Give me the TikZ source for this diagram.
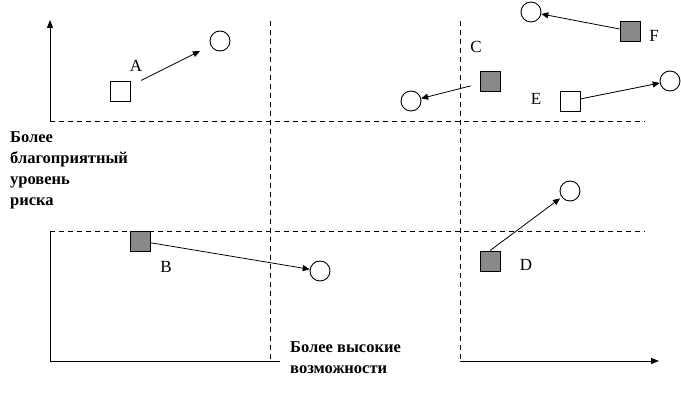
\documentclass[tikz,border=0pt]{standalone}
\usepackage{fontspec}
\setmainfont{Liberation Serif}
\usetikzlibrary{arrows.meta,positioning}
\definecolor{ink}{HTML}{000000}
\definecolor{boxgray}{HTML}{898989}
\tikzset{
  base/.style={font=\fontsize{17}{21}\selectfont, text=ink, inner sep=0pt},
  caption/.style={base, font=\bfseries\fontsize{16.5}{21}\selectfont, align=left, anchor=north west},
  letter/.style={base},
  sqbox/.style={draw=ink, line width=0.9pt, minimum size=20pt, inner sep=0pt},
  whitebox/.style={sqbox, fill=white},
  graybox/.style={sqbox, fill=boxgray},
  target/.style={circle, draw=ink, line width=0.9pt, minimum size=20pt, inner sep=0pt},
  move/.style={-{Triangle[length=7pt,width=6pt]}, line width=0.8pt, draw=ink},
  axis/.style={-{Triangle[length=8pt,width=6pt]}, line width=1pt, draw=ink},
  frame/.style={line width=1pt, draw=ink},
  grid/.style={line width=0.8pt, draw=ink, dash pattern=on 5pt off 4pt},
}
\begin{document}
\begin{tikzpicture}[x=1pt,y=-1pt]
  \useasboundingbox (0,0) rectangle (681,401);

  % axes and dividers
  \draw[axis] (50,121) -- (50,20);
  \draw[frame] (50,231) -- (50,361) -- (280,361);
  \draw[axis] (460,361) -- (659,361);
  \draw[grid] (50,121) -- (645,121);
  \draw[grid] (50,231) -- (645,231);
  \draw[grid] (270,21) -- (270,361);
  \draw[grid] (460,21) -- (460,361);

  \node[caption] (risk) at (10,131) {Более\\благоприятный\\уровень\\риска};
  \node[caption] (chance) at (290,341) {Более высокие\\возможности};

  % A
  \node[whitebox] (sqA) at (120,91) {};
  \node[target] (cA) at (220,41) {};
  \node[letter] (lA) at (136,66) {A};
  \draw[move, shorten <=12pt, shorten >=12pt] (sqA) -- (cA);

  % B
  \node[graybox] (sqB) at (140,241) {};
  \node[target] (cB) at (320,271) {};
  \node[letter] (lB) at (166,267) {B};
  \draw[move] (sqB) -- (cB);

  % C
  \node[graybox] (sqC) at (490,81) {};
  \node[target] (cC) at (411,101) {};
  \node[letter] (lC) at (476,47) {C};
  \draw[move, shorten <=9pt] (sqC) -- (cC);

  % D
  \node[graybox] (sqD) at (490,261) {};
  \node[target] (cD) at (570,191) {};
  \node[letter] (lD) at (526,265) {D};
  \draw[move, shorten >=2pt] (sqD.north) -- (cD);

  % E
  \node[whitebox] (sqE) at (570,101) {};
  \node[target] (cE) at (670,81) {};
  \node[letter] (lE) at (536,99) {E};
  \draw[move] (sqE) -- (cE);

  % F
  \node[graybox] (sqF) at (630,31) {};
  \node[target] (cF) at (531,12) {};
  \node[letter] (lF) at (654,36) {F};
  \draw[move] (sqF) -- (cF);
\end{tikzpicture}
\end{document}
